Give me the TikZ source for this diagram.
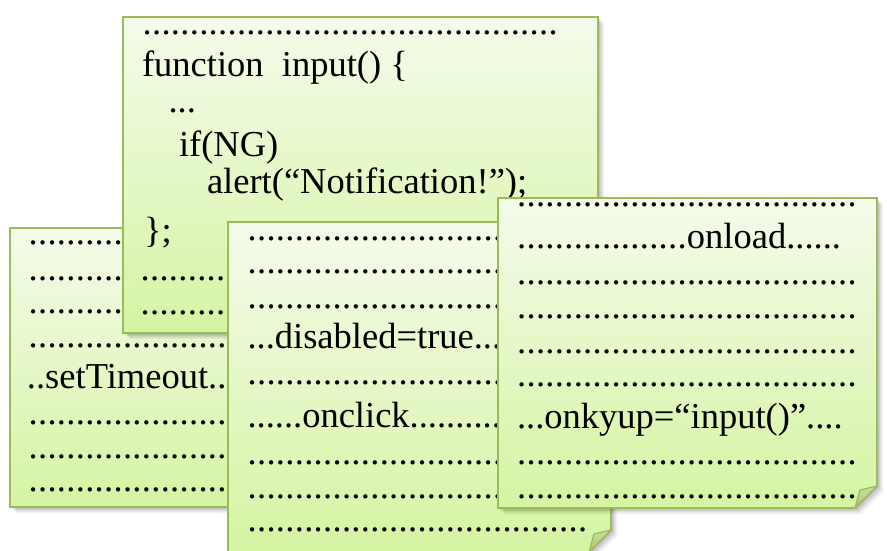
\documentclass[tikz,border=0pt]{standalone}
\usepackage{fontspec}
\setmainfont{Liberation Serif}
\definecolor{cardline}{HTML}{9BBB59}
\definecolor{cardtop}{HTML}{F4FBEB}
\definecolor{cardbot}{HTML}{D5F4A2}
\definecolor{foldtop}{HTML}{C8E09C}
\definecolor{foldbot}{HTML}{A9C776}
\newcommand\dotfillto[1]{\hbox to #1{\leaders\hbox to 9.44pt{\hss.\hss}\hfill}}
\newcommand\notecard[5]{%
  \foreach \shd/\opc in {1.5/0.08,3/0.08,4.5/0.07,6/0.05}{%
    \fill[black,opacity=\opc] ({#1+\shd},{#2+\shd}) -- ({#3+\shd},{#2+\shd}) -- ({#3+\shd},{#4-#5+\shd}) -- ({#3-#5+\shd},{#4+\shd}) -- ({#1+\shd},{#4+\shd}) -- cycle;}
  \path[cardbox] (#1,#2) -- (#3,#2) -- (#3,{#4-#5}) -- ({#3-#5},#4) -- (#1,#4) -- cycle;
  \path[foldbox] (#3,{#4-#5}) -- ({#3-#5},#4) -- ({#3-#5+5},{#4-#5+4}) -- cycle;
}
\begin{document}
\begin{tikzpicture}[x=1pt,y=-1pt,
  txt/.style={anchor=base west, inner sep=0pt, outer sep=0pt, font=\rmfamily\fontsize{36.5}{40}\selectfont},
  cardbox/.style={draw=cardline, line width=1.6pt, line join=miter, top color=cardtop, bottom color=cardbot},
  foldbox/.style={draw=cardline, line width=1.2pt, line join=round, top color=foldtop, bottom color=foldbot}]
\useasboundingbox (0,0) rectangle (887,551);

% Card A (back)
\notecard{10}{228}{400}{507}{22}
\node[txt] (a1) at (28.5,244.9) {\dotfillto{340pt}};
\node[txt] (a2) at (28.5,280.6) {\dotfillto{340pt}};
\node[txt] (a3) at (28.5,313.3) {\dotfillto{340pt}};
\node[txt] (a4) at (28.5,347.3) {\dotfillto{340pt}};
\node[txt] (a5) at (27,388) {..setTimeout.............};
\node[txt] (a6) at (28.5,424.9) {\dotfillto{340pt}};
\node[txt] (a7) at (28.5,458.3) {\dotfillto{340pt}};
\node[txt] (a8) at (28.5,491.6) {\dotfillto{340pt}};

% Card B
\notecard{123}{17}{598}{333}{22}
\node[txt] (b1) at (142.5,34.6) {\dotfillto{423pt}};
\node[txt] (b2) at (142,77) {function\ \ input() \{};
\node[txt] (b3) at (168.5,113) {...};
\node[txt] (b4) at (179,156) {if(NG)};
\node[txt] (b5) at (207,193) {alert(“Notification!”);};
\node[txt] (b6) at (144,242) {\};};
\node[txt] (b7) at (140.5,280.6) {\dotfillto{340pt}};
\node[txt] (b8) at (140.5,314.9) {\dotfillto{340pt}};

% Card C
\notecard{228}{222}{611}{552}{22}
\node[txt] (c1) at (247.5,240.9) {\dotfillto{340pt}};
\node[txt] (c2) at (247.5,273.3) {\dotfillto{340pt}};
\node[txt] (c3) at (247.5,308.3) {\dotfillto{340pt}};
\node[txt] (c4) at (247.5,348.3) {...disabled=true.....};
\node[txt] (c5) at (247.5,384.9) {\dotfillto{340pt}};
\node[txt] (c6) at (247.5,427.7) {......onclick............};
\node[txt] (c7) at (247.5,464.9) {\dotfillto{340pt}};
\node[txt] (c8) at (247.5,498.3) {\dotfillto{340pt}};
\node[txt] (c9) at (247.5,531.6) {\dotfillto{340pt}};

% Card D (front)
\notecard{498}{198}{877}{508}{22}
\node[txt] (d1) at (517,206.6) {\dotfillto{340pt}};
\node[txt] (d2) at (517,248.3) {\dotfillto{170pt}onload......};
\node[txt] (d3) at (517,284.9) {\dotfillto{340pt}};
\node[txt] (d4) at (517,318.3) {\dotfillto{340pt}};
\node[txt] (d5) at (517,353.3) {\dotfillto{340pt}};
\node[txt] (d6) at (517,386.6) {\dotfillto{340pt}};
\node[txt] (d7) at (517,428.3) {...onkyup=“input()”....};
\node[txt] (d8) at (517,464.9) {\dotfillto{340pt}};
\node[txt] (d9) at (517,498.3) {\dotfillto{340pt}};
\end{tikzpicture}
\end{document}
